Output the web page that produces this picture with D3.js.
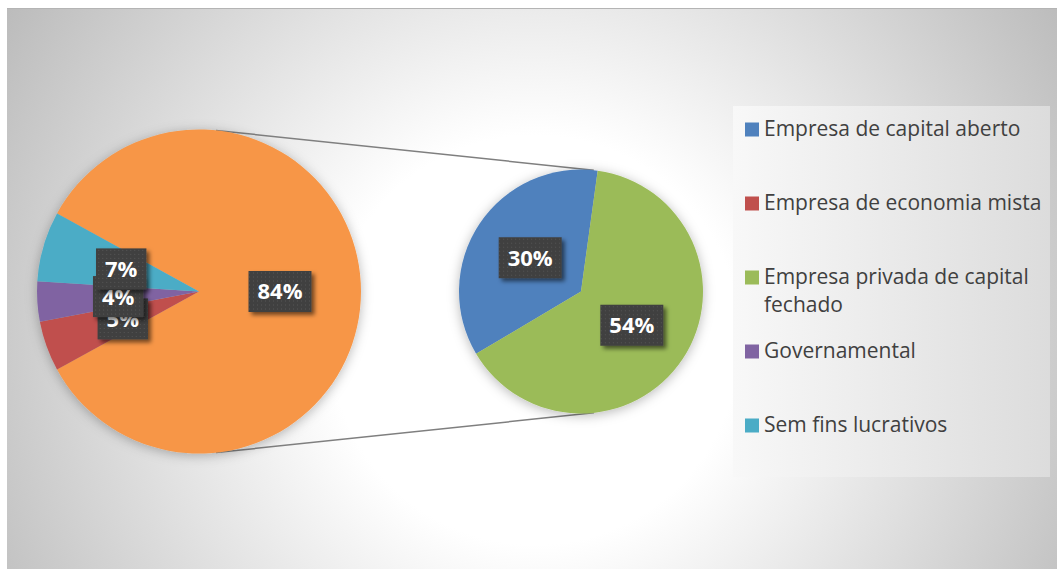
<!DOCTYPE html>
<html>
<head>
<meta charset="utf-8">
<script src="https://cdn.jsdelivr.net/npm/d3@7"></script>
<style>
  html, body { margin: 0; padding: 0; background: #ffffff; }
  svg { display: block; }
</style>
</head>
<body>
<svg id="chart" width="1059" height="570"></svg>
<script>
// Organisation types and their share of the total (%)
const categories = [
  "Empresa de capital aberto",
  "Empresa de economia mista",
  "Empresa privada de capital fechado",
  "Governamental",
  "Sem fins lucrativos"
];
const shares = [30, 5, 54, 4, 7];
const colors = ["#4F81BD", "#C0504D", "#9BBB59", "#8064A2", "#4BACC6"];
// Categories broken out into the secondary pie
const inSecondary = [true, false, true, false, false];
const otherColor = "#F79646";

const W = 1059, H = 570;
const svg = d3.select("#chart");
const defs = svg.append("defs");

// --- background gradient of the chart area
const bg = defs.append("radialGradient").attr("id", "bgGrad")
  .attr("gradientUnits", "userSpaceOnUse")
  .attr("cx", 535).attr("cy", 340).attr("r", 620);
bg.append("stop").attr("offset", 0).attr("stop-color", "#ffffff");
bg.append("stop").attr("offset", 0.33).attr("stop-color", "#ffffff");
bg.append("stop").attr("offset", 1).attr("stop-color", "#bcbcbc");

const lg = defs.append("linearGradient").attr("id", "legendGrad")
  .attr("x1", 0).attr("x2", 1).attr("y1", 0).attr("y2", 0);
lg.append("stop").attr("offset", 0).attr("stop-color", "#f8f8f8");
lg.append("stop").attr("offset", 1).attr("stop-color", "#dcdcdc");

// soft halo around the pies
const halo = defs.append("filter").attr("id", "halo")
  .attr("x", "-20%").attr("y", "-20%").attr("width", "140%").attr("height", "140%");
halo.append("feDropShadow").attr("dx", 0).attr("dy", 2).attr("stdDeviation", 6)
  .attr("flood-color", "#000").attr("flood-opacity", 0.28);

// shadow for the data label boxes
const boxShadow = defs.append("filter").attr("id", "boxShadow")
  .attr("x", "-30%").attr("y", "-30%").attr("width", "160%").attr("height", "160%");
boxShadow.append("feDropShadow").attr("dx", 3).attr("dy", 3).attr("stdDeviation", 2.2)
  .attr("flood-color", "#000").attr("flood-opacity", 0.55);

// dotted texture of the label boxes
const dots = defs.append("pattern").attr("id", "dots")
  .attr("patternUnits", "userSpaceOnUse").attr("width", 4).attr("height", 4);
dots.append("rect").attr("width", 4).attr("height", 4).attr("fill", "#404040");
dots.append("rect").attr("x", 1).attr("y", 1).attr("width", 1).attr("height", 1).attr("fill", "#565656");

// chart area
svg.append("rect").attr("x", 7).attr("y", 8).attr("width", 1050).attr("height", 561)
  .attr("fill", "url(#bgGrad)");
svg.append("line").attr("x1", 7).attr("x2", 1057).attr("y1", 8.5).attr("y2", 8.5)
  .attr("stroke", "#b4b4b4").attr("stroke-width", 1);

const total = d3.sum(shares);
const items = categories.map((c, i) => ({ name: c, value: shares[i], color: colors[i], second: inSecondary[i] }));
const secondItems = items.filter(d => d.second);
const otherValue = d3.sum(secondItems, d => d.value);
const mainItems = [{ name: "Outros", value: otherValue, color: otherColor }]
  .concat(items.filter(d => !d.second));

const rad = deg => deg * Math.PI / 180;

// geometry
const c1 = { x: 199, y: 291.5 }, r1 = 162;
const c2 = { x: 581, y: 291.5 }, r2 = 122;

// primary pie: the aggregate slice faces the secondary pie
const otherSpan = otherValue / total * 2 * Math.PI;
const mainStart = Math.PI / 2 - otherSpan / 2;
const mainPie = d3.pie().sort(null).value(d => d.value)
  .startAngle(mainStart).endAngle(mainStart + 2 * Math.PI);
const secPie = d3.pie().sort(null).value(d => d.value)
  .startAngle(rad(-120.7)).endAngle(rad(-120.7) + 2 * Math.PI);

const arc1 = d3.arc().innerRadius(0).outerRadius(r1);
const arc2 = d3.arc().innerRadius(0).outerRadius(r2);
const lab1 = d3.arc().innerRadius(r1 / 2).outerRadius(r1 / 2);
const lab2 = d3.arc().innerRadius(r2 / 2).outerRadius(r2 / 2);

const mainArcs = mainPie(mainItems);
const secArcs = secPie(secondItems);

// connector lines: external common tangents of the two circles
const d = c2.x - c1.x;
const phi = Math.asin((r1 - r2) / d);
[-1, 1].forEach(s => {
  const p1 = { x: c1.x + r1 * Math.sin(phi), y: c1.y + s * r1 * Math.cos(phi) };
  const p2 = { x: c2.x + r2 * Math.sin(phi), y: c2.y + s * r2 * Math.cos(phi) };
  svg.append("line").attr("x1", p1.x).attr("y1", p1.y).attr("x2", p2.x).attr("y2", p2.y)
    .attr("stroke", "#7f7f7f").attr("stroke-width", 1.5);
});

const g1 = svg.append("g").attr("transform", `translate(${c1.x},${c1.y})`).attr("filter", "url(#halo)");
g1.selectAll("path").data(mainArcs).join("path")
  .attr("d", arc1).attr("fill", a => a.data.color);

const g2 = svg.append("g").attr("transform", `translate(${c2.x},${c2.y})`).attr("filter", "url(#halo)");
g2.selectAll("path").data(secArcs).join("path")
  .attr("d", arc2).attr("fill", a => a.data.color);

// data labels
function drawLabel(parent, pos, value) {
  const g = parent.append("g").attr("transform", `translate(${pos[0]},${pos[1]})`);
  const box = g.append("rect");
  const t = g.append("text")
    .attr("text-anchor", "middle").attr("dy", "0.36em")
    .attr("font-family", "'Open Sans', 'Noto Sans', sans-serif")
    .attr("font-weight", 700).attr("font-size", 22)
    .attr("fill", "#ffffff")
    .text(Math.round(value / total * 100) + "%");
  const w = t.node().getComputedTextLength() + 18, h = 41;
  box.attr("x", -w / 2).attr("y", -h / 2).attr("width", w).attr("height", h)
    .attr("fill", "url(#dots)").attr("filter", "url(#boxShadow)");
}
const labLayer1 = svg.append("g").attr("transform", `translate(${c1.x},${c1.y})`);
const labLayer2 = svg.append("g").attr("transform", `translate(${c2.x},${c2.y})`);
mainArcs.forEach(a => drawLabel(labLayer1, lab1.centroid(a), a.data.value));
secArcs.forEach(a => drawLabel(labLayer2, lab2.centroid(a), a.data.value));

// legend
const legend = svg.append("g");
legend.append("rect").attr("x", 733).attr("y", 106).attr("width", 317).attr("height", 371)
  .attr("fill", "url(#legendGrad)");
const legendFont = "'Open Sans', 'Noto Sans', sans-serif";
const maxTextW = 282;
items.forEach((it, i) => {
  const baseY = 136 + i * 74;
  legend.append("rect").attr("x", 745).attr("y", baseY - 13.5).attr("width", 14).attr("height", 14)
    .attr("fill", it.color);
  const t = legend.append("text").attr("x", 764).attr("y", baseY)
    .attr("font-family", legendFont).attr("font-size", 21).attr("fill", "#404040");
  // wrap words onto lines no wider than the legend column
  const words = it.name.split(" ");
  let line = [], lineNo = 0;
  let ts = t.append("tspan").attr("x", 764).attr("y", baseY);
  words.forEach(wd => {
    line.push(wd);
    ts.text(line.join(" "));
    if (ts.node().getComputedTextLength() > maxTextW && line.length > 1) {
      line.pop();
      ts.text(line.join(" "));
      line = [wd];
      lineNo++;
      ts = t.append("tspan").attr("x", 764).attr("y", baseY + lineNo * 28).text(wd);
    }
  });
});
</script>
</body>
</html>
